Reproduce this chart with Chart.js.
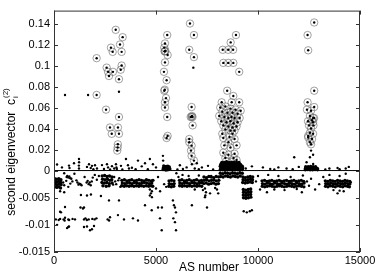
<!DOCTYPE html>
<html>
<head>
<meta charset="utf-8">
<script src="https://cdn.jsdelivr.net/npm/chart.js@4.4.0/dist/chart.umd.min.js"></script>
<style>
    html, body { margin: 0; padding: 0; background: #fff; }
    #chart { display: block; }
</style>
</head>
<body>
<canvas id="chart" width="382" height="277"></canvas>
<script>
// negative part of the y axis is stretched like in the original figure
const NEG_STRETCH = 5.17;

const xTicks = [0, 5000, 10000, 15000];
const yTicks = [-0.015, -0.01, -0.005, 0, 0.02, 0.04, 0.06, 0.08, 0.1, 0.12, 0.14];
const yTickLabels = ['-0.015', '-0.01', '-0.005', '0', '0.02', '0.04', '0.06', '0.08', '0.1', '0.12', '0.14'];

// circled nodes (AS number, c_i)
const ringsA = [[2090,0.107],[2090,0.072],[3025,0.134],[3365,0.127],[3235,0.120],[2790,0.117],[2875,0.113],[3315,0.113],
    [2580,0.098],[3315,0.100],[3270,0.096],[2890,0.094],[2650,0.094],[2695,0.090],[3185,0.087],[2550,0.058],[3185,0.051],
    [2745,0.041],[3135,0.041],[2830,0.035],[3185,0.035],[3100,0.019],[3120,0.022],[3130,0.025]];
const ringsB = [[5550,0.129],[5440,0.121],[5405,0.117],[5440,0.1135],[5420,0.1135],[5460,0.114],[5570,0.110],[5440,0.103],
    [5390,0.094],[5520,0.086],[5405,0.076],[5430,0.077],[5490,0.069],[5440,0.065],[5440,0.060],[5550,0.051],[5570,0.033],[5520,0.031]];
const ringsC = [[6665,0.140],[6860,0.129],[6630,0.115],[6860,0.108],[6745,0.0605],[6700,0.051],[6745,0.051],[6790,0.051],
    [6760,0.052],[6795,0.043],[6630,0.030],[6630,0.027],[6745,0.0237],[6715,0.019],[6745,0.014],[6860,0.0095]];
const ringsD = [[8920,0.129],[8660,0.122],[8270,0.115],[8540,0.115],[8780,0.115],[8300,0.1025],[8540,0.1025],[8790,0.1025],
    [9080,0.094],[8490,0.076],[8790,0.071],[8710,0.065],[8220,0.065],[9080,0.065],
    [8150,0.060],[8400,0.061],[8650,0.059],[8900,0.058],[9150,0.057],[8250,0.056],[8500,0.055],[8750,0.055],[9000,0.054],
    [8100,0.052],[8350,0.051],[8550,0.050],[8700,0.051],[8850,0.050],[9100,0.050],[8200,0.047],[8450,0.046],[8650,0.047],
    [8800,0.045],[9000,0.046],[8300,0.043],[8550,0.042],[8750,0.041],[8950,0.042],[8400,0.039],[8650,0.038],[8850,0.038],
    [8300,0.031],[8600,0.032],[8850,0.030],[8350,0.024],[8650,0.022],[8950,0.024],[8300,0.017],[8550,0.015],[8850,0.016],
    [8450,0.009],[8700,0.008],[8950,0.010],[8250,0.035],[8750,0.035],[8550,0.027],[8400,0.012],[8800,0.012]];
const ringsE = [[12755,0.141],[12430,0.129],[12460,0.1145],[12755,0.076],[12430,0.065],[12755,0.0605],[12400,0.058],[12600,0.057],
    [12545,0.052],[12705,0.050],[12750,0.050],[12650,0.048],[12450,0.047],[12700,0.046],[12500,0.043],[12720,0.043],
    [12600,0.040],[12460,0.033],[12700,0.035],[12545,0.036],[12460,0.0315],[12650,0.030],[12545,0.027],[12600,0.025]];

// single dots above zero
const highDots = [[540,0.072],[1670,0.072],[3185,0.075],[6830,0.098],[12545,0.0126],[12380,0.0079],[12705,0.0063],
    [12700,0.015],[12600,0.019],[11776,0.0126],[5340,0.014],[5350,0.0095]];
const nearZeroDots = [[150,0.0057],[390,0.003],[735,0.0047],[760,0.0025],[980,0.0069],[1225,0.011],[1230,0.0079],[1220,0.0047],
    [1225,0.0019],[1617,0.0035],[1715,0.006],[1800,0.0025],[1862,0.0045],[1930,0.0012],[2009,0.005],[2107,0.002],[2352,0.0052],
    [2597,0.006],[2650,0.003],[2842,0.0042],[2950,0.002],[3038,0.006],[3060,0.003],[3080,0.0015],[3283,0.0045],[3528,0.011],
    [3626,0.005],[3675,0.002],[3820,0.0027],[4116,0.0095],[4300,0.004],[4460,0.007],[4600,0.0013],[4700,0.011],[4850,0.006],
    [5000,0.003],[6170,0.005],[6320,0.0015],[6500,0.003],[6760,0.006],[6900,0.002],[7000,0.007],[7250,0.003],[7550,0.0045],
    [7800,0.001],[9400,0.002],[9700,0.004],[10240,0.003],[10600,0.0015],[11000,0.003],[11400,0.002],[12000,0.0035],
    [13500,0.002],[13900,0.0025],[14000,0.0012],[14300,0.0019],[2450,0.0015],[2750,0.001],[3350,0.001],[4000,0.0012],
    [6050,0.001],[7100,0.0012],[10800,0.001],[11700,0.0012],[13300,0.001],[14450,0.0035]];
const zeroBlocks = [[5350,0.001],[5400,0.003],[5450,0.0015],[5500,0.004],[5550,0.0025],[5600,0.001],[5650,0.0035],[5380,0.0045],
    [5480,0.0005],[5580,0.0042],[5420,0.002],[5520,0.0012],[5620,0.0028],[5680,0.0015],[5360,0.0025],[5460,0.0035],[5560,0.0008],
    [5640,0.002],
    [8150,0.0008],[8270,0.0007],[8390,0.0009],[8510,0.0008],[8630,0.0007],[8750,0.0009],[8870,0.0008],[8990,0.0007],[9110,0.0008],[9230,0.0009],
    [8170,0.0025],[8290,0.0026],[8410,0.0024],[8530,0.0025],[8650,0.0026],[8770,0.0024],[8890,0.0025],[9010,0.0026],[9130,0.0024],[9250,0.0025],
    [8150,0.0042],[8270,0.0043],[8390,0.0041],[8510,0.0042],[8630,0.0043],[8750,0.0041],[8870,0.0042],[8990,0.0043],[9110,0.0041],[9230,0.0042],
    [8180,0.006],[8300,0.0061],[8420,0.0059],[8540,0.006],[8660,0.0061],[8780,0.0059],[8900,0.006],[9020,0.0061],[9140,0.0059],
    [8230,0.0078],[8350,0.0077],[8470,0.0079],[8590,0.0078],[8710,0.0077],[8830,0.0079],[8950,0.0078],[9070,0.0077],
    [12320,0.0008],[12440,0.0009],[12560,0.0007],[12680,0.0008],[12800,0.0009],[12920,0.0008],
    [12330,0.0022],[12450,0.0023],[12570,0.0021],[12690,0.0022],[12810,0.0023],[12910,0.0021],
    [12340,0.0037],[12460,0.0036],[12580,0.0038],[12700,0.0037],[12820,0.0036]];

// dense band just below zero
const bandDots = [[40,-0.0015],[140,-0.0016],[240,-0.0015],[340,-0.0017],[30,-0.0020],[130,-0.0021],[230,-0.0020],[330,-0.0022],
    [50,-0.0025],[150,-0.0026],[250,-0.0025],[350,-0.0026],[40,-0.0030],[140,-0.0031],[240,-0.0030],[320,-0.0032],
    [2360,-0.0010],[2480,-0.0009],[2600,-0.0011],[2720,-0.0010],[2840,-0.0012],[2380,-0.0016],[2500,-0.0017],[2620,-0.0016],
    [2740,-0.0018],[2830,-0.0017],[2350,-0.0022],[2470,-0.0023],[2590,-0.0022],[2710,-0.0024],[2850,-0.0023],[2400,-0.0028],
    [2560,-0.0029],[2700,-0.0028],
    [3330,-0.0018],[3450,-0.0017],[3570,-0.0019],[3690,-0.0018],[3810,-0.0017],[3930,-0.0019],[4050,-0.0018],[4170,-0.0017],
    [4290,-0.0018],[4410,-0.0019],[4530,-0.0017],[4650,-0.0018],[4770,-0.0019],[4850,-0.0018],
    [3350,-0.0023],[3470,-0.0024],[3590,-0.0022],[3710,-0.0023],[3830,-0.0024],[3950,-0.0022],[4070,-0.0023],[4190,-0.0024],
    [4310,-0.0023],[4430,-0.0022],[4550,-0.0023],[4670,-0.0024],[4790,-0.0023],
    [3320,-0.0028],[3440,-0.0029],[3560,-0.0028],[3680,-0.0029],[3800,-0.0028],[3920,-0.0029],[4040,-0.0028],[4160,-0.0029],
    [4280,-0.0028],[4400,-0.0029],[4520,-0.0028],[4640,-0.0029],[4760,-0.0028],[4840,-0.0029],
    [5640,-0.0019],[5760,-0.0018],[5880,-0.0019],[5650,-0.0024],[5770,-0.0025],[5890,-0.0024],[5630,-0.0029],[5750,-0.0030],[5870,-0.0029],
    [6150,-0.0018],[6270,-0.0017],[6390,-0.0019],[6510,-0.0018],[6630,-0.0017],[6750,-0.0019],[6870,-0.0018],[6990,-0.0017],
    [7110,-0.0019],[7230,-0.0018],[6170,-0.0023],[6290,-0.0024],[6410,-0.0022],[6530,-0.0023],[6650,-0.0024],[6770,-0.0022],
    [6890,-0.0023],[7010,-0.0024],[7130,-0.0023],[7250,-0.0022],[6160,-0.0028],[6280,-0.0029],[6400,-0.0028],[6520,-0.0029],
    [6640,-0.0028],[6760,-0.0029],[6880,-0.0028],[7000,-0.0029],[7120,-0.0028],[7240,-0.0029],
    [7350,-0.0012],[7470,-0.0013],[7590,-0.0011],[7710,-0.0012],[7830,-0.0013],[7950,-0.0011],[8070,-0.0012],
    [7360,-0.0018],[7480,-0.0017],[7600,-0.0019],[7720,-0.0018],[7840,-0.0017],[7960,-0.0019],[8080,-0.0018],
    [7340,-0.0024],[7460,-0.0023],[7580,-0.0025],[7700,-0.0024],[7820,-0.0023],[7940,-0.0025],[8060,-0.0024],
    [8150,-0.0005],[8270,-0.0006],[8390,-0.0004],[8510,-0.0005],[8630,-0.0006],[8750,-0.0004],[8870,-0.0005],[8990,-0.0006],
    [9110,-0.0004],[9230,-0.0005],[8170,-0.0011],[8290,-0.0012],[8410,-0.0010],[8530,-0.0011],[8650,-0.0012],[8770,-0.0010],
    [8890,-0.0011],[9010,-0.0012],[9130,-0.0010],
    [9260,-0.0012],[9380,-0.0013],[9500,-0.0012],[9620,-0.0011],[9740,-0.0012],[9270,-0.0017],[9390,-0.0018],[9510,-0.0017],
    [9630,-0.0016],[9730,-0.0017],[9250,-0.0022],[9370,-0.0023],[9490,-0.0022],[9610,-0.0021],[9720,-0.0022],
    [9280,-0.0035],[9400,-0.0036],[9520,-0.0035],[9640,-0.0034],[9290,-0.0040],[9410,-0.0041],[9530,-0.0040],[9650,-0.0039],
    [9280,-0.0045],[9400,-0.0046],[9520,-0.0045],[9640,-0.0044],[9290,-0.0050],[9410,-0.0051],[9530,-0.0050],[9650,-0.0049],
    [10200,-0.0019],[10320,-0.0018],[10440,-0.0020],[10560,-0.0019],[10680,-0.0018],[10800,-0.0020],[10920,-0.0019],
    [11040,-0.0018],[11160,-0.0020],[11280,-0.0019],[11400,-0.0018],[11520,-0.0020],[11640,-0.0019],[11760,-0.0018],
    [11880,-0.0020],[12000,-0.0019],[12120,-0.0018],[12240,-0.0020],
    [10220,-0.0024],[10340,-0.0025],[10460,-0.0023],[10580,-0.0024],[10700,-0.0025],[10820,-0.0023],[10940,-0.0024],
    [11060,-0.0025],[11180,-0.0023],[11300,-0.0024],[11420,-0.0025],[11540,-0.0023],[11660,-0.0024],[11780,-0.0025],
    [11900,-0.0023],[12020,-0.0024],[12140,-0.0025],[12260,-0.0023],
    [10210,-0.0029],[10330,-0.0030],[10450,-0.0029],[10570,-0.0028],[10690,-0.0029],[10810,-0.0030],[10930,-0.0029],
    [11050,-0.0028],[11170,-0.0029],[11290,-0.0030],[11410,-0.0029],[11530,-0.0028],[11650,-0.0029],[11770,-0.0030],
    [11890,-0.0029],[12010,-0.0028],[12130,-0.0029],[12250,-0.0030],
    [13300,-0.0019],[13420,-0.0020],[13540,-0.0018],[13660,-0.0019],[13780,-0.0020],[13900,-0.0018],[14020,-0.0019],
    [14140,-0.0020],[14260,-0.0018],[14380,-0.0019],[14500,-0.0020],
    [13320,-0.0024],[13440,-0.0025],[13560,-0.0023],[13680,-0.0024],[13800,-0.0025],[13920,-0.0023],[14040,-0.0024],
    [14160,-0.0025],[14280,-0.0023],[14400,-0.0024],[14490,-0.0025],
    [13310,-0.0029],[13430,-0.0030],[13550,-0.0028],[13670,-0.0029],[13790,-0.0030],[13910,-0.0028],[14030,-0.0029],
    [14150,-0.0030],[14270,-0.0028],[14390,-0.0029],[14480,-0.0030]];

// loose dots around the band
const looseDots = [[450,-0.0022],[500,-0.0027],[600,-0.0019],[700,-0.0030],[800,-0.0024],[900,-0.0020],[650,-0.0010],
    [700,-0.0013],[750,-0.0011],[800,-0.0014],[1150,-0.0022],[1200,-0.0026],[1250,-0.0024],[1350,-0.0027],[1650,-0.0019],
    [1700,-0.0025],[1750,-0.0022],[1800,-0.0027],[1850,-0.0020],[500,-0.0005],[620,-0.0012],[850,-0.0015],[1000,-0.0006],
    [1100,-0.0018],[1300,-0.0025],[1500,-0.0012],[1600,-0.0022],[1900,-0.0013],[2000,-0.0008],[2100,-0.0017],[2200,-0.0010],
    [2950,-0.0012],[3000,-0.0020],[3050,-0.0025],[3150,-0.0018],[3250,-0.0030],[2900,-0.0026],[3200,-0.0014],
    [5000,-0.0033],[5100,-0.0012],[5200,-0.0038],[5400,-0.0025],[5500,-0.0030],[6000,-0.0005],[6100,-0.0012],[6300,-0.0008],
    [6600,-0.0010],[6900,-0.0035],[7100,-0.0009],[7300,-0.0036],[7700,-0.0010],[7900,-0.0032],[9900,-0.0020],[10000,-0.0010],
    [10100,-0.0035],[10500,-0.0008],[10800,-0.0035],[11000,-0.0010],[11300,-0.0036],[11600,-0.0012],[11900,-0.0034],
    [12200,-0.0009],[12400,-0.0020],[12500,-0.0028],[12600,-0.0015],[12800,-0.0035],[13000,-0.0025],[13200,-0.0012],
    [13500,-0.0008],[13700,-0.0036],[14000,-0.0010],[14200,-0.0038],[14300,-0.0006],[14450,-0.0030],[14550,-0.0022]];

// sparse dots far below zero
const lowDots = [[90,-0.009],[230,-0.0091],[300,-0.0089],[470,-0.009],[520,-0.0092],[700,-0.009],[740,-0.0091],[910,-0.0089],
    [1030,-0.009],[1470,-0.009],[1540,-0.0088],[1610,-0.0091],[1700,-0.009],[1880,-0.0089],[1990,-0.009],
    [2080,-0.0088],[2630,-0.009],[2700,-0.0092],[3430,-0.009],
    [300,-0.0076],[540,-0.0087],[150,-0.010],[640,-0.0106],[700,-0.0104],[1420,-0.007],[1300,-0.0068],[540,-0.0067],
    [1470,-0.0068],[1765,-0.011],[1860,-0.0108],[2745,-0.0086],[3135,-0.0082],[343,-0.0077],[735,-0.0103],[1617,-0.0103],
    [1960,-0.0102],[1470,-0.0104],[1320,-0.0045],[1617,-0.0046],[1810,-0.0044],[2300,-0.0047],[2695,-0.0055],[3185,-0.0055],
    [300,-0.0038],[500,-0.004],[4460,-0.0064],[4790,-0.0073],[3870,-0.0088],[4116,-0.0092],[5100,-0.0068],[5290,-0.0068],
    [5195,-0.0088],[5280,-0.011],[5830,-0.0055],[5880,-0.0064],[5930,-0.0068],[5980,-0.0077],[5850,-0.0088],[5930,-0.0095],
    [5980,-0.011],[6760,-0.0064],[7400,-0.0049],[7500,-0.0068],[7650,-0.0042],[4700,-0.0035],[4800,-0.0038],[4750,-0.0042],
    [4700,-0.0046],[4800,-0.0049],[7400,-0.0033],[7450,-0.004],[7420,-0.0046],[7990,-0.0035],[8050,-0.0042],
    [9300,-0.0075],[9450,-0.0077],[9600,-0.0075],[9700,-0.0073],[10440,-0.004],[12150,-0.004],[13900,-0.0042],[14000,-0.0037]];

function tr(v) {
    return v < 0 ? v * NEG_STRETCH : v; // stretch the negative half
}

function toPoints(list) {
    return list.map(p => ({x: p[0], y: tr(p[1])}));
}

const rings = [].concat(ringsA, ringsB, ringsC, ringsD, ringsE);
const dots = [].concat(rings, highDots, nearZeroDots, looseDots, lowDots);
const denseDots = [].concat(zeroBlocks, bandDots);

const FONT = "'Liberation Sans', Arial, Helvetica, sans-serif";

// frame, inward ticks and axis titles (MATLAB style)
const framePlugin = {
    id: 'frame',
    afterDraw(chart) {
        const ctx = chart.ctx;
        const a = chart.chartArea;
        const xs = chart.scales.x;
        const ys = chart.scales.y;
        ctx.save();
        ctx.strokeStyle = '#333';
        ctx.lineWidth = 1;
        ctx.strokeRect(a.left + 0.5, a.top + 0.5, a.right - a.left - 1, a.bottom - a.top - 1);
        ctx.beginPath();
        yTicks.forEach(v => {
            const py = Math.round(ys.getPixelForValue(tr(v))) + 0.5;
            ctx.moveTo(a.left, py); ctx.lineTo(a.left + 4, py);
            ctx.moveTo(a.right, py); ctx.lineTo(a.right - 4, py);
        });
        xTicks.forEach(v => {
            const px = Math.round(xs.getPixelForValue(v)) + 0.5;
            ctx.moveTo(px, a.bottom); ctx.lineTo(px, a.bottom - 4);
            ctx.moveTo(px, a.top); ctx.lineTo(px, a.top + 4);
        });
        ctx.stroke();

        ctx.fillStyle = '#000';
        ctx.textBaseline = 'middle';
        ctx.textAlign = 'center';
        ctx.font = '12px ' + FONT;
        ctx.fillText('AS number', 209, 268);

        // y title with sub- and superscript
        ctx.translate(12, 152);
        ctx.rotate(-Math.PI / 2);
        const main = 'second eigenvector  c';
        ctx.font = '12px ' + FONT;
        const w1 = ctx.measureText(main).width;
        ctx.font = '8px ' + FONT;
        const w2 = ctx.measureText('(2)').width;
        const start = -(w1 + w2 + 1) / 2;
        ctx.textAlign = 'left';
        ctx.font = '12px ' + FONT;
        ctx.fillText(main, start, 0);
        ctx.font = '8px ' + FONT;
        ctx.fillText('i', start + w1 + 1, 4);
        ctx.fillText('(2)', start + w1 + 1, -6);
        ctx.restore();
    }
};

new Chart(document.getElementById('chart'), {
    type: 'scatter',
    data: {
        datasets: [
            {
                label: 'nodes',
                data: toPoints(dots),
                pointRadius: 1.2,
                pointBorderWidth: 0,
                pointBackgroundColor: '#000',
                pointHoverRadius: 1.2
            },
            {
                label: 'dense',
                data: toPoints(denseDots),
                pointRadius: 1.7,
                pointBorderWidth: 0,
                pointBackgroundColor: '#000',
                pointHoverRadius: 1.7
            },
            {
                label: 'circled',
                data: toPoints(rings),
                pointRadius: 3.7,
                pointBorderWidth: 0.8,
                pointBorderColor: 'rgba(100,100,100,0.75)',
                pointBackgroundColor: 'rgba(0,0,0,0)',
                pointHoverRadius: 3.7
            },
            {
                type: 'line',
                label: 'zero',
                data: [{x: 0, y: 0}, {x: 15000, y: 0}],
                borderColor: '#000',
                borderWidth: 1,
                pointRadius: 0
            }
        ]
    },
    options: {
        responsive: false,
        animation: false,
        devicePixelRatio: 1,
        layout: {padding: {top: 9, right: 22, left: 0, bottom: 0}},
        plugins: {legend: {display: false}, tooltip: {enabled: false}},
        scales: {
            x: {
                type: 'linear',
                min: 0,
                max: 15000,
                grid: {display: false, drawTicks: false},
                border: {display: false},
                afterBuildTicks: scale => { scale.ticks = xTicks.map(v => ({value: v})); },
                afterFit: scale => { scale.height = 25; },
                ticks: {
                    autoSkip: false,
                    maxRotation: 0,
                    padding: 2,
                    color: '#000',
                    font: {family: FONT, size: 11},
                    callback: v => String(v)
                }
            },
            y: {
                type: 'linear',
                min: tr(-0.015),
                max: 0.1523,
                grid: {display: false, drawTicks: false},
                border: {display: false},
                afterBuildTicks: scale => { scale.ticks = yTicks.map(v => ({value: tr(v)})); },
                afterFit: scale => { scale.width = 54; },
                ticks: {
                    autoSkip: false,
                    padding: 4,
                    color: '#000',
                    font: {family: FONT, size: 11},
                    callback: (v, i) => yTickLabels[i]
                }
            }
        }
    },
    plugins: [framePlugin]
});
</script>
</body>
</html>
